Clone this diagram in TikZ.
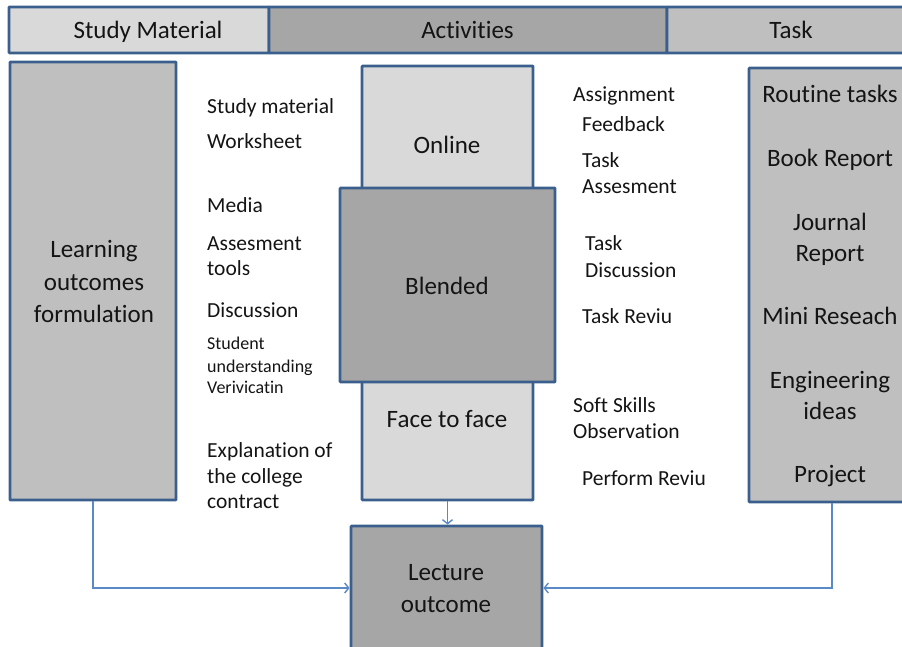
\documentclass[tikz,border=0pt]{standalone}
\usepackage{fontspec}
\setmainfont{Carlito}[Ligatures={NoCommon}]
\usetikzlibrary{arrows.meta}
\definecolor{bord}{HTML}{3A5F8C}
\definecolor{linkc}{HTML}{5A8AC6}
\definecolor{fillA}{HTML}{D9D9D9}
\definecolor{fillB}{HTML}{BFBFBF}
\definecolor{fillC}{HTML}{A6A6A6}
\definecolor{txt}{HTML}{141414}
\begin{document}
\begin{tikzpicture}[x=1pt,y=-1pt,
  box/.style={draw=bord,line width=2.9pt,rectangle,inner sep=0pt,rounded corners=0.8pt},
  big/.style={font=\fontsize{25}{32}\selectfont,text=txt,inner sep=0pt,anchor=base},
  side/.style={font=\fontsize{21.5}{26}\selectfont,text=txt,inner sep=0pt,anchor=base west},
  tiny/.style={font=\fontsize{18}{22}\selectfont,text=txt,inner sep=0pt,anchor=base west},
  link/.style={draw=linkc,line width=1.4pt,-{Straight Barb[length=4pt,width=10pt]}}]
\useasboundingbox (0,0) rectangle (902,647);
% header
\node[box,fill=fillA,minimum width=260pt,minimum height=46pt] (h1) at (139,30) {};
\node[box,fill=fillC,minimum width=398pt,minimum height=46pt] (h2) at (468,30) {};
\node[box,fill=fillB,minimum width=243pt,minimum height=46pt] (h3) at (788.5,30) {};
\node[big] (h1t) at (148,39) {Study Material};
\node[big] (h2t) at (467.5,39) {Activities};
\node[big] (h3t) at (791,39) {Task};
% boxes
\node[box,fill=fillB,minimum width=166pt,minimum height=438pt] (lbox) at (93,281) {};
\node[box,fill=fillA,minimum width=171pt,minimum height=434pt] (act) at (447.5,283) {};
\node[box,fill=fillC,minimum width=215pt,minimum height=194pt] (blend) at (447.5,285) {};
\node[box,fill=fillB,minimum width=166pt,minimum height=434pt] (rbox) at (832,285) {};
\node[box,fill=fillC,minimum width=191pt,minimum height=124pt] (lec) at (446.5,588) {};
% box texts
\node[big] (l1) at (94,258) {Learning};
\node[big] (l2) at (94,290) {outcomes};
\node[big] (l3) at (94,322) {formulation};
\node[big] (on) at (447,154) {Online};
\node[big] (bl) at (447,294) {Blended};
\node[big] (ff) at (447,427) {Face to face};
\node[big] (lc1) at (446,580) {Lecture};
\node[big] (lc2) at (446,612) {outcome};
\node[big] (r1) at (830,103) {Routine tasks};
\node[big] (r2) at (830,167) {Book Report};
\node[big] (r3) at (830,230) {Journal};
\node[big] (r4) at (830,261) {Report};
\node[big] (r5) at (830,324) {Mini Reseach};
\node[big] (r6) at (830,388) {Engineering};
\node[big] (r7) at (830,419) {ideas};
\node[big] (r8) at (830,482) {Project};
% left side labels
\node[side] (s1) at (207,114) {Study material};
\node[side] (s2) at (207,149) {Worksheet};
\node[side] (s3) at (207,213) {Media};
\node[side] (s4) at (207,250) {Assesment};
\node[side] (s5) at (207,275) {tools};
\node[side] (s6) at (207,317) {Discussion};
\node[tiny] (s7) at (207,349) {Student};
\node[tiny] (s8) at (207,372) {understanding};
\node[tiny] (s9) at (207,393) {Verivicatin};
\node[side] (s10) at (207,457) {Explanation of};
\node[side] (s11) at (207,483) {the college};
\node[side] (s12) at (207,508) {contract};
% right side labels
\node[side] (t1) at (573,102) {Assignment};
\node[side] (t2) at (582,132) {Feedback};
\node[side] (t3) at (582,168) {Task};
\node[side] (t4) at (582,194) {Assesment};
\node[side] (t5) at (585,251) {Task};
\node[side] (t6) at (585,277) {Discussion};
\node[side] (t7) at (582,323) {Task Reviu};
\node[side] (t8) at (573,412) {Soft Skills};
\node[side] (t9) at (573,438) {Observation};
\node[side] (t10) at (582,485) {Perform Reviu};
% connectors
\draw[link] (lbox.south) |- (lec.west);
\draw[link] (rbox.south) |- (lec.east);
\draw[link] (act.south) -- (act.south |- lec.north);
\end{tikzpicture}
\end{document}
